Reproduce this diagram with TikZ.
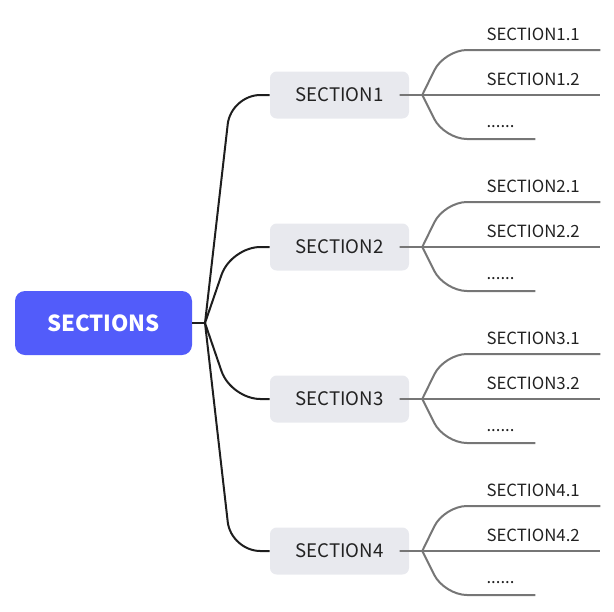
\documentclass[tikz,border=0pt]{standalone}
\usepackage{fontspec}
\setmainfont{Noto Sans CJK SC}
\usetikzlibrary{positioning}
\definecolor{secblue}{RGB}{82,92,250}
\definecolor{secgray}{RGB}{232,233,238}
\definecolor{seclink}{RGB}{30,30,30}
\definecolor{subgray}{RGB}{118,118,118}
\definecolor{sectext}{RGB}{34,34,34}
\tikzset{
  %% ---- boxes ----
  root/.style  = {rectangle, rounded corners=7.5pt, fill=secblue,
                  text=white, minimum width=132.75pt, minimum height=48pt,
                  inner sep=0pt, font=\fontsize{16.6}{20}\selectfont\bfseries},
  topic/.style = {rectangle, rounded corners=5pt, fill=secgray,
                  text=sectext, minimum width=104.25pt, minimum height=35.25pt,
                  inner sep=0pt, font=\fontsize{14}{16}\selectfont},
  sub/.style   = {anchor=base west, inner sep=0pt, text=sectext,
                  font=\fontsize{12.6}{15}\selectfont},
  %% ---- lines ----
  mainline/.style = {line width=1.5pt, draw=seclink, rounded corners=22pt},
  subline/.style  = {line width=1.5pt, draw=subgray, rounded corners=17pt},
}
\begin{document}
\begin{tikzpicture}[x=0.75pt, y=-0.75pt]
\useasboundingbox (0,0) rectangle (614,611);

%% ── Root ──────────────────────────────────────────────────────────────────
\node[root] (root) at (103.5, 323) {SECTIONS};
\coordinate (rj) at (205, 323);

%% ── Sections ──────────────────────────────────────────────────────────────
\node[topic] (s1) at (339.5,  95) {SECTION1};
\node[topic] (s2) at (339.5, 247) {SECTION2};
\node[topic] (s3) at (339.5, 399) {SECTION3};
\node[topic] (s4) at (339.5, 551) {SECTION4};

%% ── Root to sections ──────────────────────────────────────────────────────
\draw[mainline] (root.east) -- (rj);
\draw[mainline] (rj) -- ([xshift=-29pt]s1.west) -- (s1.west);
\draw[mainline] (rj) -- ([xshift=-29pt]s2.west) -- (s2.west);
\draw[mainline] (rj) -- ([xshift=-29pt]s3.west) -- (s3.west);
\draw[mainline] (rj) -- ([xshift=-29pt]s4.west) -- (s4.west);

%% ── Sub-sections ──────────────────────────────────────────────────────────
\foreach \k in {1,2,3,4}{
  \coordinate (j\k)  at ([xshift=9.75pt]s\k.east);
  \coordinate (e\k a) at ([shift={(178,-45)}]j\k);
  \coordinate (e\k b) at ([shift={(178,0)}]j\k);
  \coordinate (e\k c) at ([shift={(113,44)}]j\k);
  \node[sub] (c\k a) at ([shift={(64,-55)}]j\k) {SECTION\k.1};
  \node[sub] (c\k b) at ([shift={(64,-10)}]j\k) {SECTION\k.2};
  \node[sub] (c\k c) at ([shift={(64,32)}]j\k)  {......};
  \draw[subline] (s\k.east) -- (j\k) -- (e\k b);
  \draw[subline] (j\k) -- ([shift={(22,-45)}]j\k) -- (e\k a);
  \draw[subline] (j\k) -- ([shift={(22,44)}]j\k) -- (e\k c);
}

\end{tikzpicture}
\end{document}
